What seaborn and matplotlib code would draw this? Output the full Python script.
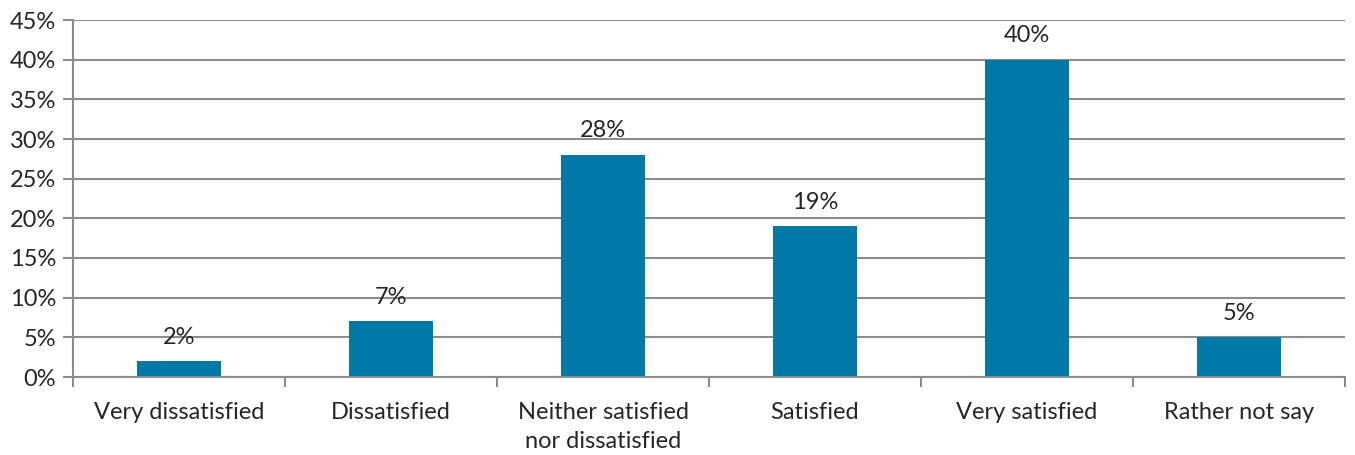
import matplotlib
matplotlib.use("Agg")
import matplotlib.pyplot as plt
import numpy as np
import pandas as pd
import seaborn as sns

categories = ["Very dissatisfied", "Dissatisfied", "Neither satisfied\nnor dissatisfied",
              "Satisfied", "Very satisfied", "Rather not say"]
shares = [2, 7, 28, 19, 40, 5]
yticks = [0, 5, 10, 15, 20, 25, 30, 35, 40, 45]

sns.set_style("white")
plt.rcParams["font.family"] = ["Lato", "DejaVu Sans"]

df = pd.DataFrame({"Категория": categories, "Доля": shares})

fig = plt.figure(figsize=(13.55, 4.55), dpi=100)
ax = fig.add_axes([73 / 1355, 78 / 455, 1272 / 1355, 357 / 455])
sns.barplot(df, x="Категория", y="Доля", color="#0079A8", width=0.4,
            saturation=1, linewidth=0, ax=ax)

ax.set_xlim(-0.5, 5.5)
ax.set_ylim(0, 45)
ax.set_yticks(yticks)
ax.set_yticklabels([f"{t}%" for t in yticks], fontsize=17)
ax.yaxis.grid(True, color="#8c8c8c", linewidth=1.5)
ax.set_axisbelow(True)
ax.tick_params(axis="y", length=7, width=1.5, color="#8c8c8c", pad=5, left=True)
ax.tick_params(axis="x", length=0, labelsize=17, pad=18)
for lbl in ax.get_xticklabels():
    lbl.set_linespacing(1.5)
ax.set_xticks(np.arange(-0.5, 6, 1), minor=True)
ax.tick_params(axis="x", which="minor", length=7, width=1.5, color="#8c8c8c", bottom=True)
ax.set_xlabel("")
ax.set_ylabel("")
for s in ["top", "right"]:
    ax.spines[s].set_visible(False)
for s in ["left", "bottom"]:
    ax.spines[s].set_color("#8c8c8c")
    ax.spines[s].set_linewidth(1.5)

for i, v in enumerate(shares):
    ax.text(i, v + 1.7, f"{v}%", ha="center", va="bottom", fontsize=17)

plt.savefig("out.png", dpi=100)
